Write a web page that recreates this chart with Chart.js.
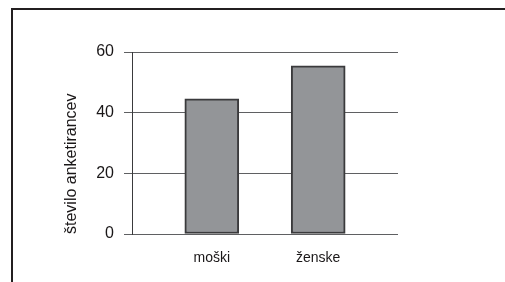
<!DOCTYPE html>
<html>
<head>
<meta charset="utf-8">
<script src="https://cdn.jsdelivr.net/npm/chart.js@4/dist/chart.umd.min.js"></script>
<style>
  html, body { margin: 0; padding: 0; background: #fff; }
  #wrap { position: relative; width: 505px; height: 282px; overflow: hidden; background: #fff; }
  #frame { position: absolute; left: 11px; top: 8px; width: 600px; height: 400px;
           border-left: 2px solid #231f20; border-top: 2px solid #231f20; }
  #c { position: absolute; left: 0; top: 0; }
</style>
</head>
<body>
<div id="wrap">
  <div id="frame"></div>
  <canvas id="c" width="505" height="282"></canvas>
</div>
<script>
const categories = ['moški', 'ženske'];
const values = [44.6, 55.4];
const yTicks = [0, 20, 40, 60];
const yTitle = 'število anketirancev';

const EDGE = -0.75;
const points = categories.map((c, i) => ({ x: i, y: values[i] }));

new Chart(document.getElementById('c'), {
  type: 'bar',
  data: {
    datasets: [{
      data: points,
      backgroundColor: '#939598',
      borderColor: '#3a3a3c',
      borderWidth: 2,
      borderSkipped: false,
      barThickness: 54
    }]
  },
  options: {
    responsive: false,
    animation: false,
    devicePixelRatio: 1,
    layout: { padding: { left: 0, right: 107, top: 52, bottom: 18 } },
    plugins: { legend: { display: false }, tooltip: { enabled: false } },
    scales: {
      x: {
        type: 'linear',
        min: EDGE,
        max: categories.length - 1 - EDGE,
        offset: false,
        afterBuildTicks: s => { s.ticks = [{ value: EDGE }].concat(categories.map((c, i) => ({ value: i }))); },
        afterFit: s => { s.height = 30; },
        border: { display: false },
        grid: {
          drawOnChartArea: false,
          drawTicks: true,
          tickLength: 8,
          color: ctx => (ctx.tick && ctx.tick.value === EDGE) ? '#3a3a3c' : 'rgba(0,0,0,0)'
        },
        ticks: {
          autoSkip: false,
          maxRotation: 0,
          padding: 8,
          color: '#1a1718',
          font: { family: 'Liberation Sans, Arial, sans-serif', size: 14 },
          callback: v => (v === EDGE ? '' : categories[v])
        }
      },
      y: {
        min: yTicks[0],
        max: yTicks[yTicks.length - 1],
        afterBuildTicks: s => { s.ticks = yTicks.map(v => ({ value: v })); },
        afterFit: s => { s.width = 132; },
        border: { display: true, color: '#3a3a3c', width: 1 },
        grid: { color: '#5f6062', lineWidth: 1, tickLength: 8, drawTicks: true },
        ticks: {
          padding: 10,
          color: '#1a1718',
          font: { family: 'Liberation Sans, Arial, sans-serif', size: 16 }
        },
        title: {
          display: true,
          text: yTitle,
          align: 'start',
          color: '#1a1718',
          padding: { top: 62, bottom: 0 },
          font: { family: 'Liberation Sans, Arial, sans-serif', size: 16 }
        }
      }
    }
  }
});
</script>
</body>
</html>
